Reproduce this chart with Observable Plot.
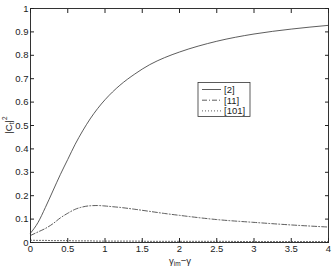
<!DOCTYPE html>
<html><head><meta charset="utf-8">
<script src="https://cdn.jsdelivr.net/npm/d3@7"></script>
<script src="https://cdn.jsdelivr.net/npm/@observablehq/plot@0.6"></script>
<style>body{margin:0;background:#fff}svg{font-family:"Liberation Sans",Arial,sans-serif}</style>
</head><body><div id="chart"></div>
<script>
const xs = [0,0.1,0.2,0.3,0.4,0.5,0.6,0.7,0.8,0.9,1.0,1.1,1.2,1.4,1.6,1.8,2.0,2.5,3.0,3.5,4.0];
const s2 = [0.04,0.085,0.15,0.22,0.29,0.355,0.42,0.477,0.528,0.572,0.61,0.643,0.672,0.72,0.76,0.79,0.814,0.86,0.891,0.912,0.928];
const s11 = [0.03,0.045,0.06,0.08,0.105,0.125,0.142,0.152,0.157,0.158,0.156,0.153,0.15,0.142,0.133,0.124,0.116,0.098,0.086,0.075,0.066];
const s101 = [0.01,0.009,0.009,0.008,0.008,0.008,0.007,0.007,0.007,0.006,0.006,0.006,0.006,0.006,0.005,0.005,0.005,0.005,0.004,0.004,0.004];
const seriesNames = ["[2]","[11]","[101]"];
const xTicks = [0,0.5,1,1.5,2,2.5,3,3.5,4];
const yTicks = [0,0.1,0.2,0.3,0.4,0.5,0.6,0.7,0.8,0.9,1];
const dashes = [null, "5,2,1,2", "1,2"];
const all = [s2,s11,s101];
const data = [];
all.forEach((s,i)=>xs.forEach((x,j)=>data.push({x, y:s[j], k:seriesNames[i]})));
const col = "#333";
const plot = Plot.plot({
  width: 333, height: 268,
  marginLeft: 30, marginRight: 5, marginTop: 8, marginBottom: 26,
  x: {domain:[0,4]}, y: {domain:[0,1]},
  style: {fontSize: "9px", color: "#222"},
  marks: [
    Plot.frame({stroke: col, strokeWidth: 1}),
    Plot.axisX({ticks: xTicks, tickSize: -4, tickPadding: 7, label: null, tickFormat: d=>String(d), fontSize: 9.5}),
    Plot.axisX({anchor:"top", ticks: xTicks, tickSize: -4, label: null, tickFormat: ()=>""}),
    Plot.axisY({ticks: yTicks, tickSize: -4, tickPadding: 6, label: null, tickFormat: d=>String(d), fontSize: 9.5}),
    Plot.axisY({anchor:"right", ticks: yTicks, tickSize: -4, label: null, tickFormat: ()=>""}),
    ...seriesNames.map((n,i)=>Plot.line(data.filter(d=>d.k===n), {x:"x", y:"y", curve:"monotone-x", stroke: col, strokeWidth: 0.8, strokeDasharray: dashes[i]}))
  ]
});
document.getElementById("chart").appendChild(plot);
const svg = d3.select(plot);
// legend
const lg = svg.append("g").attr("text-anchor","start");
lg.append("rect").attr("x",198).attr("y",82.5).attr("width",52).attr("height",34).attr("fill","#fff").attr("stroke",col).attr("stroke-width",0.8);
seriesNames.forEach((n,i)=>{
  const yy = 89.5 + i*10.7;
  const l = lg.append("line").attr("x1",202).attr("x2",221).attr("y1",yy).attr("y2",yy).attr("stroke",col).attr("stroke-width",0.8);
  if (dashes[i]) l.attr("stroke-dasharray",dashes[i]);
  lg.append("text").attr("x",224).attr("y",yy).attr("dy","0.35em").attr("font-size",9.5).attr("fill","#222").text(n);
});
// y label
const yl = svg.append("text").attr("transform","translate(12,125) rotate(-90)").attr("text-anchor","middle").attr("font-size",9.5).attr("fill","#222");
yl.append("tspan").text("|C");
yl.append("tspan").attr("font-size",6.5).attr("dy",2).text("t");
yl.append("tspan").attr("dy",-2).text("|");
yl.append("tspan").attr("font-size",6.5).attr("dy",-5).text("2");
// x label
const xl = svg.append("text").attr("x",180).attr("y",264).attr("text-anchor","middle").attr("font-size",9.5).attr("fill","#222");
xl.append("tspan").text("γ");
xl.append("tspan").attr("font-size",6.5).attr("dy",2).text("im");
xl.append("tspan").attr("dy",-2).text("−γ");
</script></body></html>
